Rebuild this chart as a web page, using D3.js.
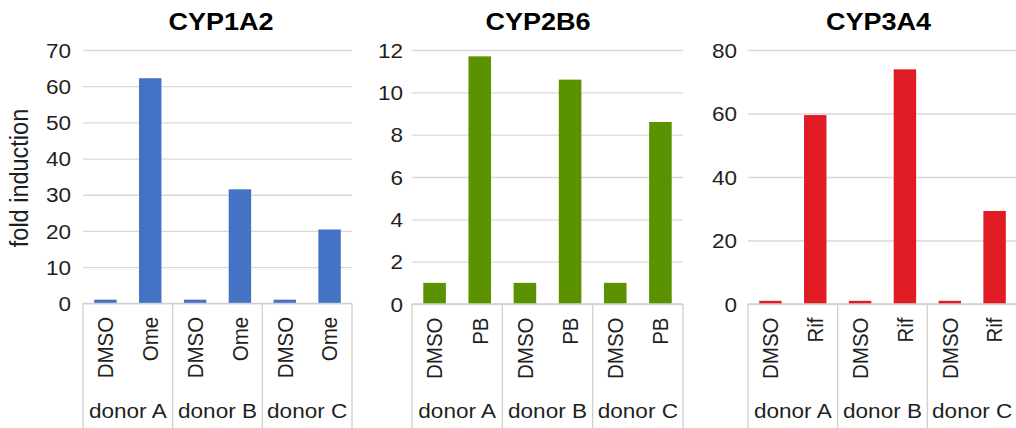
<!DOCTYPE html>
<html>
<head>
<meta charset="utf-8">
<script src="https://cdn.jsdelivr.net/npm/d3@7/dist/d3.min.js"></script>
<style>
  html, body { margin: 0; padding: 0; background: #fff; }
  svg { display: block; font-family: "Liberation Sans", Arial, sans-serif; }
</style>
</head>
<body>
<svg id="chart" width="1016" height="428"></svg>
<script>
// ---- data ----
const genes = ["CYP1A2", "CYP2B6", "CYP3A4"];
const donors = ["donor A", "donor B", "donor C"];
const treatments1A2 = ["DMSO", "Ome"];
const treatments2B6 = ["DMSO", "PB"];
const treatments3A4 = ["DMSO", "Rif"];
const values1A2 = [1, 62.2, 1, 31.5, 1, 20.4];
const values2B6 = [1, 11.7, 1, 10.6, 1, 8.6];
const values3A4 = [1, 59.5, 1, 73.9, 1, 29.3];
const yTicks1A2 = [0, 10, 20, 30, 40, 50, 60, 70];
const yTicks2B6 = [0, 2, 4, 6, 8, 10, 12];
const yTicks3A4 = [0, 20, 40, 60, 80];
const yLabel = "fold induction";

// ---- layout / style ----
const colors = ["#4472C4", "#5B9200", "#E01B24"];
const layouts = [
  { left: 83,  right: 352,  top: 50, bottom: 303.3, titleX: 221,   tickGap: 12 },
  { left: 412, right: 683,  top: 50, bottom: 304,   titleX: 538,   tickGap: 9  },
  { left: 748, right: 1017, top: 50, bottom: 304,   titleX: 878.5, tickGap: 11 }
];
const panels = [
  { gene: genes[0], treatments: treatments1A2, values: values1A2, ticks: yTicks1A2 },
  { gene: genes[1], treatments: treatments2B6, values: values2B6, ticks: yTicks2B6 },
  { gene: genes[2], treatments: treatments3A4, values: values3A4, ticks: yTicks3A4 }
];
const SX = 1.1;            // horizontal glyph stretch of the reference
const textColor = "#1f1f1f";
const gridColor = "#d9d9d9";
const axisColor = "#d0d0d0";

const svg = d3.select("#chart");

panels.forEach((p, i) => {
  const L = layouts[i];
  const g = svg.append("g");

  const cats = [];
  donors.forEach(d => p.treatments.forEach(t => cats.push(d + "|" + t)));

  const x = d3.scaleBand().domain(cats).range([L.left, L.right])
    .paddingInner(0.5).paddingOuter(0.25);
  const xGroup = d3.scaleBand().domain(donors).range([L.left, L.right]).padding(0);
  const y = d3.scaleLinear().domain([0, d3.max(p.ticks)]).range([L.bottom, L.top]);

  // gridlines + y tick labels
  const yAxis = g.append("g")
    .attr("transform", `translate(${L.left},0)`)
    .call(d3.axisLeft(y).tickValues(p.ticks).tickSize(-(L.right - L.left)).tickFormat(d3.format("d")));
  yAxis.select(".domain").remove();
  yAxis.selectAll(".tick line").attr("stroke", gridColor).attr("stroke-width", 1.3);
  yAxis.selectAll(".tick text")
    .attr("x", 0).attr("dy", "0.35em")
    .attr("transform", `translate(${-L.tickGap},0) scale(${SX},1)`)
    .attr("font-size", "20.5px")
    .attr("fill", textColor)
    .attr("font-family", "Liberation Sans, Arial, sans-serif");

  // bars
  g.selectAll("rect.bar").data(p.values).join("rect")
    .attr("class", "bar")
    .attr("x", (d, k) => x(cats[k]))
    .attr("width", x.bandwidth())
    .attr("y", d => y(d))
    .attr("height", d => y(0) - y(d))
    .attr("fill", colors[i]);

  // category axis line
  g.append("line")
    .attr("x1", L.left).attr("x2", L.right)
    .attr("y1", y(0)).attr("y2", y(0))
    .attr("stroke", axisColor).attr("stroke-width", 1.3);

  // group separators
  const bounds = donors.map(d => xGroup(d)).concat([xGroup(donors[donors.length - 1]) + xGroup.bandwidth()]);
  g.selectAll("line.sep").data(bounds).join("line")
    .attr("class", "sep")
    .attr("x1", d => d).attr("x2", d => d)
    .attr("y1", y(0)).attr("y2", 428)
    .attr("stroke", axisColor).attr("stroke-width", 1.3);

  // treatment labels (rotated)
  g.selectAll("text.cat").data(cats).join("text")
    .attr("class", "cat")
    .attr("transform", d => `translate(${x(d) + x.bandwidth() / 2},${y(0) + 13.5}) scale(${SX},1) rotate(-90)`)
    .attr("text-anchor", "end")
    .attr("dy", "0.35em")
    .attr("font-size", "20.5px")
    .attr("fill", textColor)
    .text(d => d.split("|")[1]);

  // donor labels
  g.selectAll("text.donor").data(donors).join("text")
    .attr("class", "donor")
    .attr("transform", d => `translate(${xGroup(d) + xGroup.bandwidth() / 2},418) scale(${SX},1)`)
    .attr("text-anchor", "middle")
    .attr("font-size", "20.5px")
    .attr("fill", textColor)
    .text(d => d);

  // title
  g.append("text")
    .attr("transform", `translate(${L.titleX},30) scale(1.15,1)`)
    .attr("text-anchor", "middle")
    .attr("font-size", "23.5px")
    .attr("font-weight", "bold")
    .attr("fill", "#000")
    .text(p.gene);
});

// y-axis title
svg.append("text")
  .attr("transform", `translate(28,178) scale(${SX},1) rotate(-90)`)
  .attr("text-anchor", "middle")
  .attr("font-size", "23.5px")
  .attr("fill", textColor)
  .text(yLabel);
</script>
</body>
</html>
